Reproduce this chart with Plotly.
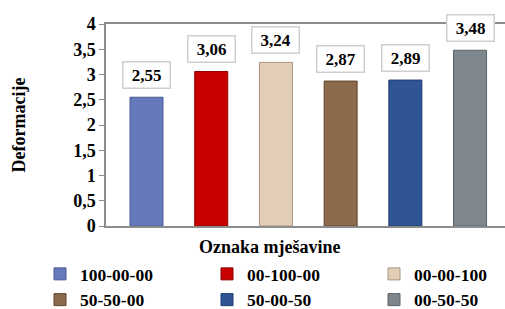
import plotly.graph_objects as go

categories = ["100-00-00", "00-100-00", "00-00-100", "50-50-00", "50-00-50", "00-50-50"]
values = [2.55, 3.06, 3.24, 2.87, 2.89, 3.48]
colors = ["#6779bd", "#c80000", "#e2cdb7", "#8c6b4c", "#2f5596", "#7d878d"]
edges = ["#4a5a96", "#8e0000", "#a89682", "#5e452f", "#1f3c6e", "#596166"]
ytick_vals = [0, 0.5, 1, 1.5, 2, 2.5, 3, 3.5, 4]

FONT = "Liberation Serif"

fig = go.Figure()
for i, (c, v) in enumerate(zip(categories, values)):
    fig.add_trace(go.Bar(
        x=[i], y=[v], name=c, width=0.51,
        marker=dict(color=colors[i], line=dict(color=edges[i], width=1)),
        hoverinfo="skip",
    ))
    fig.add_annotation(
        x=i, y=v, xref="x", yref="y", text=f"{v:.2f}".replace(".", ","),
        showarrow=False, yanchor="bottom", yshift=8,
        font=dict(family=FONT, size=17, color="black", weight="bold"),
        bgcolor="white", bordercolor="#cfcfcf", borderwidth=1.5,
        width=44, height=23, borderpad=1,
    )

fig.add_annotation(
    x=(270 - 106) / 399, y=-0.105, xref="paper", yref="paper",
    text="Oznaka mješavine", showarrow=False, yanchor="middle",
    font=dict(family=FONT, size=18, color="black", weight="bold"),
)

fig.update_layout(
    width=505, height=309,
    margin=dict(l=106, r=0, t=24, b=83, autoexpand=False),
    paper_bgcolor="white", plot_bgcolor="white",
    separators=", ",
    barmode="overlay",
    showlegend=True,
    legend=dict(
        orientation="h", xref="paper", yref="paper",
        x=(40 - 106) / 399, xanchor="left",
        y=(226 - 256) / 202, yanchor="top",
        entrywidth=122, entrywidthmode="pixels",
        font=dict(family=FONT, size=17.5, color="black", weight="bold"),
        traceorder="normal", bgcolor="rgba(0,0,0,0)",
    ),
    xaxis=dict(
        range=[-0.626, 5.54], showticklabels=False, showgrid=False, zeroline=False,
        showline=True, linecolor="#8c8c8c", linewidth=1.5, mirror=True, ticks="",
    ),
    yaxis=dict(
        range=[0, 4], tickvals=ytick_vals, showgrid=False, zeroline=False,
        showline=True, linecolor="#8c8c8c", linewidth=1.5,
        ticks="outside", ticklen=5, tickcolor="#8c8c8c",
        tickfont=dict(family=FONT, size=18, color="black", weight="bold"),
        title=dict(text="Deformacije", font=dict(family=FONT, size=18, color="black", weight="bold"), standoff=43),
    ),
)

fig.write_html("out.html", config={"displayModeBar": False},
               post_script="document.body.style.margin='0';")
